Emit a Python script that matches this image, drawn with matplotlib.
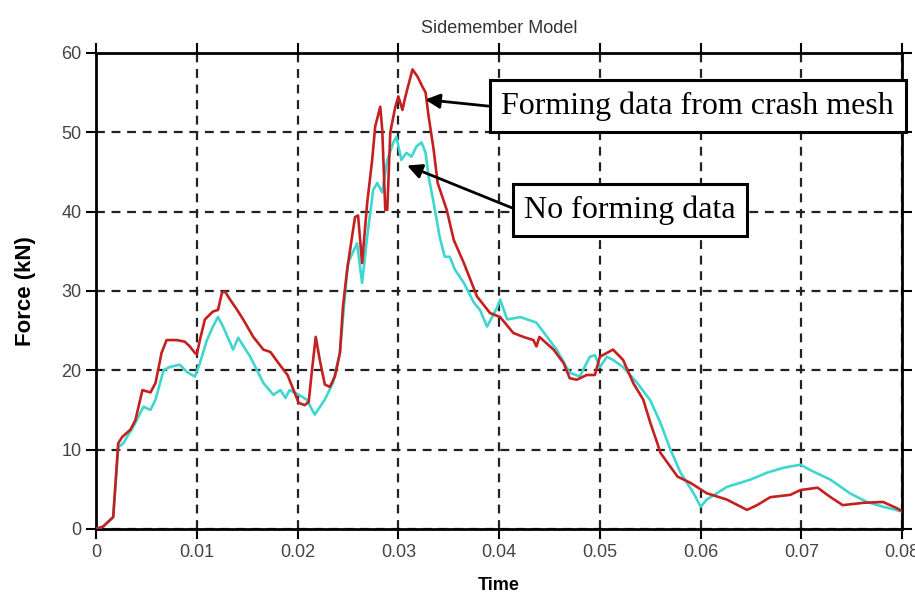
import numpy as np
import matplotlib.pyplot as plt

# Sidemember crash force vs time
t_crash = [0, 0.0007, 0.0017, 0.0022, 0.0026, 0.0034, 0.0039, 0.0046, 0.0054, 0.0059,
           0.0065, 0.0070, 0.0080, 0.0088, 0.0093, 0.0098, 0.0100, 0.0103, 0.0108, 0.0116,
           0.0121, 0.0125, 0.0128, 0.0133, 0.0140, 0.0146, 0.0156, 0.0166, 0.0173, 0.0181,
           0.0190, 0.0196, 0.0201, 0.0207, 0.0211, 0.0214, 0.0218, 0.0222, 0.0227, 0.0232,
           0.0237, 0.0242, 0.0245, 0.0249, 0.0254, 0.0257, 0.0260, 0.0264, 0.0269, 0.0274,
           0.0277, 0.0282, 0.0284, 0.0287, 0.0289, 0.0292, 0.0297, 0.0300, 0.0304, 0.0307,
           0.0314, 0.0319, 0.0324, 0.0327, 0.0330, 0.0335, 0.0339, 0.0348, 0.0355, 0.0365,
           0.0378, 0.0391, 0.0401, 0.0414, 0.0424, 0.0434, 0.0437, 0.0440, 0.0454, 0.0464,
           0.0470, 0.0477, 0.0487, 0.0495, 0.0500, 0.0513, 0.0523, 0.0533, 0.0543, 0.0550,
           0.0557, 0.0560, 0.0577, 0.0590, 0.0606, 0.0626, 0.0646, 0.0656, 0.0669, 0.0689,
           0.0699, 0.0716, 0.0729, 0.0741, 0.0762, 0.0781, 0.0795, 0.0800]
f_crash = [0, 0.3, 1.5, 10.8, 11.6, 12.5, 13.7, 17.5, 17.2, 18.4,
           22.2, 23.8, 23.8, 23.6, 23.0, 22.2, 22.0, 23.8, 26.4, 27.4,
           27.6, 29.8, 29.9, 28.9, 27.6, 26.4, 24.2, 22.6, 22.3, 20.9,
           19.4, 17.5, 15.9, 15.6, 16.0, 19.7, 24.2, 21.3, 18.2, 17.9,
           19.2, 22.2, 28.0, 32.5, 36.8, 39.3, 39.5, 33.5, 41.0, 46.5,
           50.7, 53.2, 50.3, 40.2, 40.2, 50.0, 53.2, 54.5, 52.8, 54.5,
           57.9, 57.0, 55.7, 55.0, 52.0, 47.8, 43.6, 40.2, 36.4, 33.5,
           29.3, 27.2, 26.7, 24.7, 24.2, 23.8, 23.0, 24.2, 22.6, 20.9,
           19.0, 18.8, 19.4, 19.4, 21.7, 22.6, 21.3, 18.4, 16.3, 13.4,
           10.8, 9.6, 6.6, 5.8, 4.5, 3.7, 2.4, 3.0, 4.0, 4.3,
           4.9, 5.2, 4.0, 3.0, 3.3, 3.4, 2.6, 2.2]

t_none = [0, 0.0007, 0.0017, 0.0022, 0.0027, 0.0037, 0.0047, 0.0054, 0.0059, 0.0067,
          0.0073, 0.0083, 0.0090, 0.0098, 0.0103, 0.0110, 0.0116, 0.0121, 0.0126, 0.0136,
          0.0141, 0.0153, 0.0166, 0.0176, 0.0183, 0.0188, 0.0192, 0.0200, 0.0209, 0.0217,
          0.0227, 0.0235, 0.0242, 0.0246, 0.0250, 0.0259, 0.0264, 0.0269, 0.0275, 0.0279,
          0.0284, 0.0289, 0.0295, 0.0298, 0.0303, 0.0308, 0.0313, 0.0318, 0.0323, 0.0327,
          0.0330, 0.0335, 0.0341, 0.0346, 0.0351, 0.0356, 0.0365, 0.0375, 0.0381, 0.0388,
          0.0398, 0.0401, 0.0408, 0.0421, 0.0437, 0.0457, 0.0470, 0.0480, 0.0490, 0.0495,
          0.0500, 0.0507, 0.0513, 0.0523, 0.0537, 0.0550, 0.0560, 0.0570, 0.0580, 0.0593,
          0.0600, 0.0606, 0.0626, 0.0649, 0.0666, 0.0682, 0.0699, 0.0709, 0.0729, 0.0748,
          0.0765, 0.0781, 0.0800]
f_none = [0, 0.3, 1.5, 10.3, 10.8, 12.9, 15.4, 15.0, 16.3, 20.0,
          20.4, 20.7, 19.8, 19.2, 20.9, 23.8, 25.5, 26.7, 25.5, 22.6,
          24.1, 21.7, 18.4, 16.9, 17.5, 16.5, 17.5, 17.0, 16.3, 14.4,
          16.3, 18.4, 22.2, 28.0, 33.5, 36.0, 31.0, 36.8, 42.7, 43.6,
          42.4, 46.5, 48.7, 49.4, 46.5, 47.4, 46.9, 48.2, 48.7, 47.4,
          44.4, 41.1, 36.8, 34.3, 34.3, 32.7, 31.0, 28.5, 27.6, 25.5,
          27.9, 28.9, 26.4, 26.7, 26.0, 22.6, 19.7, 19.2, 21.7, 21.9,
          20.4, 21.7, 21.3, 20.4, 18.4, 16.2, 13.4, 10.0, 7.1, 4.5,
          2.8, 3.7, 5.3, 6.2, 7.1, 7.7, 8.1, 7.4, 6.2, 4.5,
          3.4, 2.8, 2.2]

x_ticks = [0, 0.01, 0.02, 0.03, 0.04, 0.05, 0.06, 0.07, 0.08]
x_labels = ['0', '0.01', '0.02', '0.03', '0.04', '0.05', '0.06', '0.07', '0.08']
y_ticks = [0, 10, 20, 30, 40, 50, 60]

plt.rcParams['font.family'] = ['Liberation Sans', 'DejaVu Sans']

fig = plt.figure(figsize=(9.15, 5.93), dpi=100)
ax = fig.add_axes([0.105, 0.108, 0.881, 0.803])

ax.plot(t_none, f_none, color='#3fd6cf', lw=1.9, zorder=3)
ax.plot(t_crash, f_crash, color='#c42020', lw=1.9, zorder=4)

ax.set_xlim(0, 0.08)
ax.set_ylim(0, 60)
ax.set_xticks(x_ticks)
ax.set_xticklabels(x_labels)
ax.set_yticks(y_ticks)
ax.tick_params(direction='out', length=7, width=1.5, labelsize=13,
               labelcolor='#444444', top=True, right=True)
for s in ax.spines.values():
    s.set_linewidth(2)

ax.grid(True, color='#222222', linestyle=(0, (4, 3)), lw=1.6, zorder=1)
ax.set_axisbelow(True)

ax.set_title('Sidemember Model', fontsize=13, color='#333333', pad=14)
ax.set_ylabel('Force (kN)', fontsize=16, fontweight='bold', labelpad=18)
ax.set_xlabel('Time', fontsize=13, fontweight='bold', labelpad=12)

box = dict(boxstyle='square,pad=0.36', fc='white', ec='black', lw=2.2)
arrow = dict(arrowstyle='-|>', color='black', lw=2, mutation_scale=22,
             shrinkA=0, shrinkB=0, relpos=(0, 0.45))
ax.annotate('Forming data from crash mesh', xy=(0.03266, 54.1), xytext=(0.0597, 53.3),
            fontsize=23, family='Liberation Serif', ha='center', va='center',
            bbox=box, arrowprops=arrow, annotation_clip=False, zorder=6)
arrow2 = dict(arrow, relpos=(0, 0.4))
ax.annotate('No forming data', xy=(0.03087, 45.8), xytext=(0.0530, 40.2),
            fontsize=23, family='Liberation Serif', ha='center', va='center',
            bbox=box, arrowprops=arrow2, annotation_clip=False, zorder=6)

fig.savefig('out.png', dpi=100)
